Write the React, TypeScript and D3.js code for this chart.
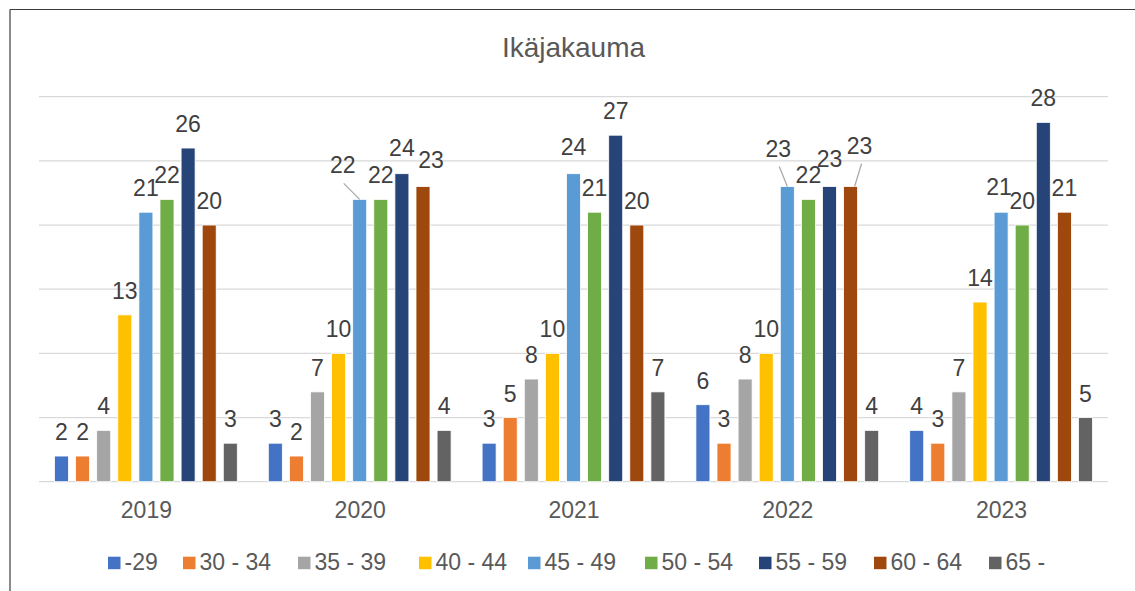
import React from "react";
import * as d3 from "d3";

const years = ["2019", "2020", "2021", "2022", "2023"];
const ageGroups = ["-29", "30 - 34", "35 - 39", "40 - 44", "45 - 49", "50 - 54", "55 - 59", "60 - 64", "65 -"];
const colors = ["#4472C4", "#ED7D31", "#A5A5A5", "#FFC000", "#5B9BD5", "#70AD47", "#264478", "#9E480E", "#636363"];

const v2019 = [2, 2, 4, 13, 21, 22, 26, 20, 3];
const v2020 = [3, 2, 7, 10, 22, 22, 24, 23, 4];
const v2021 = [3, 5, 8, 10, 24, 21, 27, 20, 7];
const v2022 = [6, 3, 8, 10, 23, 22, 23, 23, 4];
const v2023 = [4, 3, 7, 14, 21, 20, 28, 21, 5];
const valuesByYear = [v2019, v2020, v2021, v2022, v2023];

const gridTicks = [0, 5, 10, 15, 20, 25, 30];

// label adjustments: [yearIndex, seriesIndex, dx, dy, leader]
const labelShifts: [number, number, number, number, boolean][] = [
  [1, 4, -17, -10, true],
  [1, 6, 0, -2, false],
  [1, 7, 8, -3, false],
  [2, 4, 0, -3, false],
  [3, 4, -9, -14, true],
  [3, 6, 0, -4, false],
  [3, 7, 9, -17, true],
  [4, 4, -2, -1, false],
];

const legendX = [108, 183, 298, 419, 528, 645, 759, 874, 989];

export default function App() {
  const W = 1135, H = 591;
  const x0 = d3.scaleBand<string>().domain(years).range([39, 1108]).paddingInner(0).paddingOuter(0);
  const x1 = d3.scaleBand<string>().domain(ageGroups).range([0, x0.bandwidth()]).paddingInner(0.336).paddingOuter(0.735);
  const y = d3.scaleLinear().domain([0, 30]).range([481.7, 96.7]);
  const font = "'Liberation Sans', Arial, sans-serif";

  const bars: React.ReactNode[] = [];
  const labels: React.ReactNode[] = [];
  years.forEach((yr, yi) => {
    valuesByYear[yi].forEach((v, si) => {
      const bx = (x0(yr) as number) + (x1(ageGroups[si]) as number);
      const bw = x1.bandwidth();
      const top = y(v);
      bars.push(
        <rect key={`b${yi}-${si}`} x={bx} y={top} width={bw} height={y(0) - top}
          fill={colors[si]} stroke="#ffffff" strokeWidth={0.8} />
      );
      const shift = labelShifts.find(s => s[0] === yi && s[1] === si);
      const dx = shift ? shift[2] : 0;
      const dy = shift ? shift[3] : 0;
      const cx = bx + bw / 2;
      const base = top - 16;
      if (shift && shift[4]) {
        const left = dx < 0;
        labels.push(
          <line key={`l${yi}-${si}`} x1={cx + dx + (left ? 1 : 2)} y1={base + dy + 10}
            x2={left ? cx : cx + 4} y2={top}
            stroke="#a6a6a6" strokeWidth={1.2} />
        );
      }
      labels.push(
        <text key={`t${yi}-${si}`} x={cx + dx} y={base + dy} textAnchor="middle"
          fontSize={23} fill="#404040" fontFamily={font}>{v}</text>
      );
    });
  });

  return (
    <svg width={W} height={H} style={{ position: "absolute", left: 0, top: 0, background: "#fff" }}>
      <rect x={0} y={0} width={W} height={H} fill="#ffffff" />
      <line x1={10} y1={9.5} x2={W} y2={9.5} stroke="#3c3c3c" strokeWidth={1.2} />
      <line x1={10} y1={9.5} x2={10} y2={H} stroke="#3c3c3c" strokeWidth={1.2} />
      <text x={573.5} y={57} textAnchor="middle" fontSize={28} fill="#595959" fontFamily={font}>Ikäjakauma</text>
      {gridTicks.map(t => (
        <line key={`g${t}`} x1={39} x2={1108} y1={y(t)} y2={y(t)} stroke="#d9d9d9" strokeWidth={1.3} />
      ))}
      {bars}
      {labels}
      {years.map(yr => (
        <text key={`c${yr}`} x={(x0(yr) as number) + x0.bandwidth() / 2 + 0.5} y={517.7} textAnchor="middle"
          fontSize={23} fill="#595959" fontFamily={font}>{yr}</text>
      ))}
      {ageGroups.map((g, i) => (
        <g key={`lg${i}`}>
          <rect x={legendX[i]} y={556.7} width={12.5} height={12.5} fill={colors[i]} />
          <text x={legendX[i] + 16.5} y={570} fontSize={23} fill="#595959" fontFamily={font}>{g}</text>
        </g>
      ))}
    </svg>
  );
}
